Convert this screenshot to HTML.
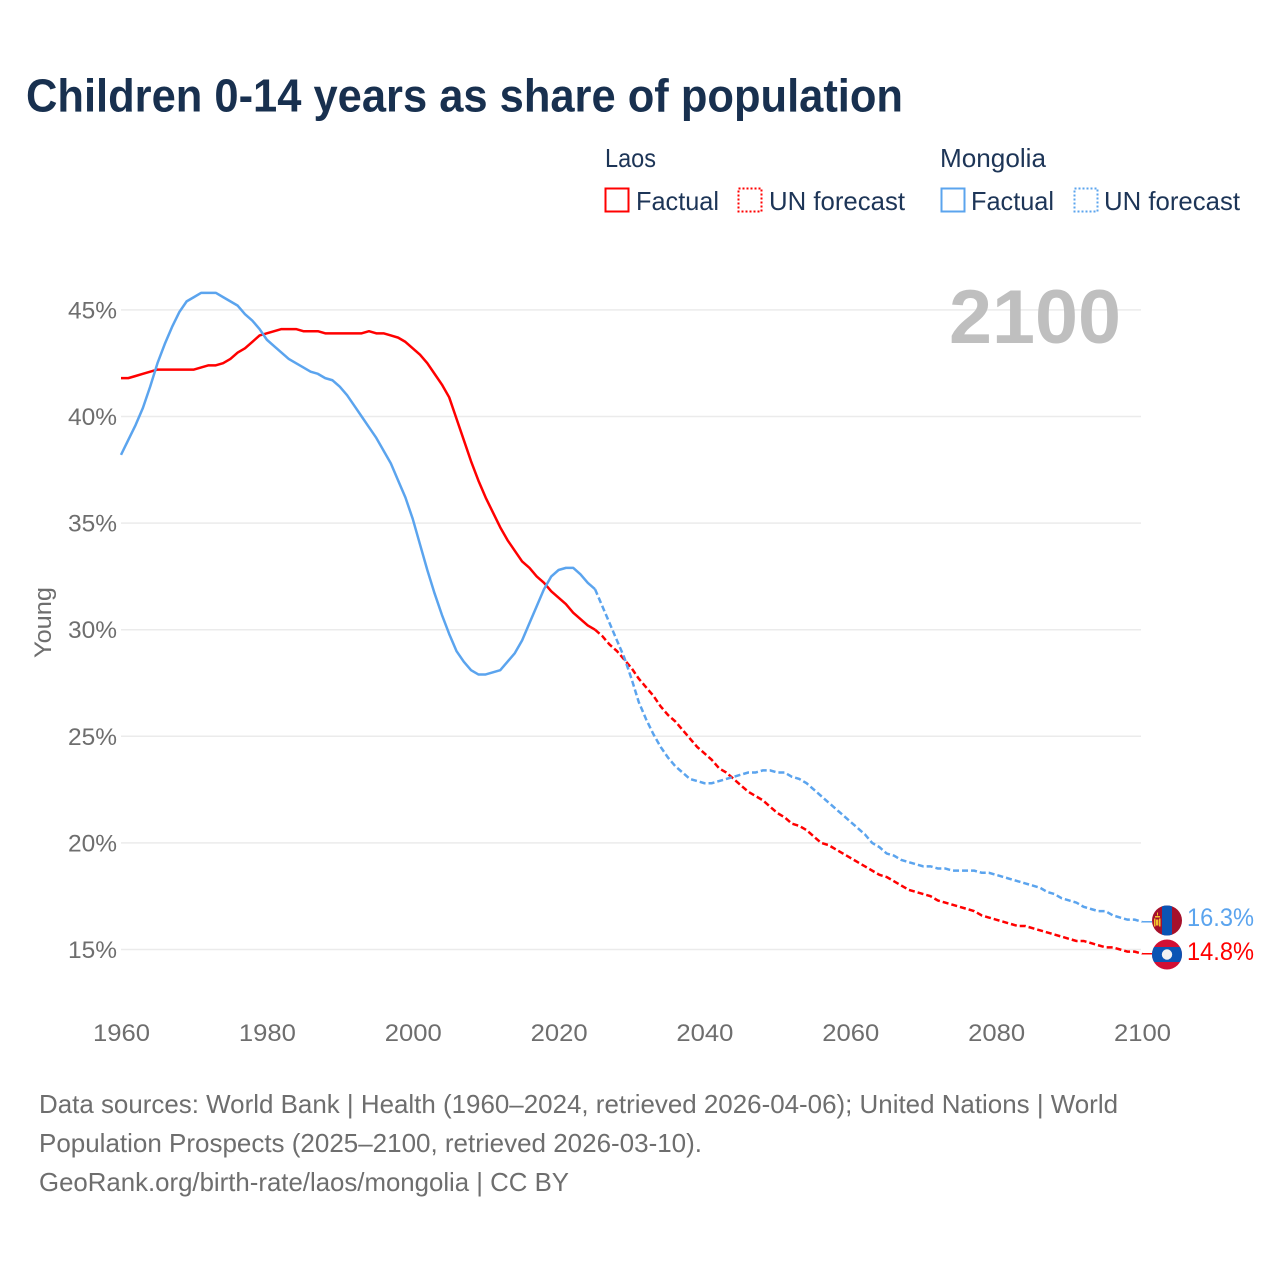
<!DOCTYPE html>
<html lang="en">
<head>
<meta charset="utf-8">
<title>Children 0-14 years as share of population</title>
<style>
  html, body { margin: 0; padding: 0; background: #fff; }
  svg { display: block; font-family: "Liberation Sans", sans-serif; }
</style>
</head>
<body>
<svg id="chart" xmlns="http://www.w3.org/2000/svg" width="1280" height="1280" viewBox="0 0 1280 1280">
  <rect x="0" y="0" width="1280" height="1280" fill="#ffffff"/>
  <text x="26" y="111.5" font-size="46" font-weight="700" fill="#18304f" textLength="877" lengthAdjust="spacingAndGlyphs">Children 0-14 years as share of population</text>

  <g font-size="26" fill="#1d3557">
    <text x="605" y="167" textLength="51" lengthAdjust="spacingAndGlyphs">Laos</text>
    <text x="940" y="167" textLength="106" lengthAdjust="spacingAndGlyphs">Mongolia</text>
    <rect x="605.5" y="188.5" width="23" height="23" fill="none" stroke="#ff0000" stroke-width="2"/>
    <text x="636" y="210" textLength="83" lengthAdjust="spacingAndGlyphs">Factual</text>
    <rect x="738.5" y="188.5" width="23" height="23" fill="none" stroke="#ff0000" stroke-width="2" stroke-dasharray="2 2"/>
    <text x="769" y="210" textLength="136" lengthAdjust="spacingAndGlyphs">UN forecast</text>
    <rect x="941.5" y="188.5" width="23" height="23" fill="none" stroke="#5ba4ee" stroke-width="2"/>
    <text x="971" y="210" textLength="83" lengthAdjust="spacingAndGlyphs">Factual</text>
    <rect x="1074.5" y="188.5" width="23" height="23" fill="none" stroke="#5ba4ee" stroke-width="2" stroke-dasharray="2 2"/>
    <text x="1104" y="210" textLength="136" lengthAdjust="spacingAndGlyphs">UN forecast</text>
  </g>

  <g id="grid-layer"></g>
  <text x="949" y="343" font-size="76" font-weight="700" fill="#bfbfbf" textLength="172" lengthAdjust="spacingAndGlyphs">2100</text>
  <g id="y-tick-layer"></g>
  <g id="x-tick-layer"></g>
  <text transform="translate(51,658) rotate(-90)" font-size="24" fill="#6e6e6e" textLength="71" lengthAdjust="spacingAndGlyphs">Young</text>
  <g id="series-layer"></g>

  <defs>
    <clipPath id="flag-clip-mongolia"><circle cx="1167" cy="920.5" r="15"/></clipPath>
    <clipPath id="flag-clip-laos"><circle cx="1167" cy="954.5" r="15"/></clipPath>
  </defs>
  <g clip-path="url(#flag-clip-mongolia)">
    <rect x="1152" y="905" width="31" height="31" fill="#a6102b"/>
    <rect x="1162" y="905" width="10" height="31" fill="#0b54b4"/>
    <rect x="1155" y="916" width="5" height="1.5" fill="#f2c230"/>
    <rect x="1154" y="918.5" width="1.5" height="8" fill="#f2c230"/>
    <rect x="1159" y="918.5" width="1.5" height="8" fill="#f2c230"/>
    <rect x="1156" y="919.5" width="2.4" height="6" fill="#f2c230"/>
    <rect x="1157" y="912.5" width="1" height="3" fill="#f2c230"/>
  </g>
  <g clip-path="url(#flag-clip-laos)">
    <rect x="1152" y="939" width="31" height="31" fill="#d20f34"/>
    <rect x="1152" y="947" width="31" height="15" fill="#0b54b4"/>
    <circle cx="1167" cy="954.5" r="5.2" fill="#f2f2f2"/>
  </g>
  <text x="1187" y="926" font-size="25" fill="#5ba4ee" textLength="67" lengthAdjust="spacingAndGlyphs">16.3%</text>
  <text x="1187" y="960" font-size="25" fill="#ff0000" textLength="67" lengthAdjust="spacingAndGlyphs">14.8%</text>

  <g font-size="26" fill="#6e6e6e">
    <text x="39" y="1113" textLength="1079" lengthAdjust="spacingAndGlyphs">Data sources: World Bank | Health (1960–2024, retrieved 2026-04-06); United Nations | World</text>
    <text x="39" y="1152" textLength="663" lengthAdjust="spacingAndGlyphs">Population Prospects (2025–2100, retrieved 2026-03-10).</text>
    <text x="39" y="1191" textLength="530" lengthAdjust="spacingAndGlyphs">GeoRank.org/birth-rate/laos/mongolia | CC BY</text>
  </g>
</svg>

<script>
const firstYear = 1960;
const forecastStartYear = 2025;
const yTickValues = [15, 20, 25, 30, 35, 40, 45];
const xTickYears = [1960, 1980, 2000, 2020, 2040, 2060, 2080, 2100];

const laosValues = [
  41.8,41.8,41.9,42.0,42.1,42.2,42.2,42.2,42.2,42.2,
  42.2,42.3,42.4,42.4,42.5,42.7,43.0,43.2,43.5,43.8,
  43.9,44.0,44.1,44.1,44.1,44.0,44.0,44.0,43.9,43.9,
  43.9,43.9,43.9,43.9,44.0,43.9,43.9,43.8,43.7,43.5,
  43.2,42.9,42.5,42.0,41.5,40.9,39.9,38.9,37.9,37.0,
  36.2,35.5,34.8,34.2,33.7,33.2,32.9,32.5,32.2,31.8,
  31.5,31.2,30.8,30.5,30.2,30.0,29.7,29.3,29.0,28.6,
  28.2,27.7,27.3,26.9,26.4,26.0,25.7,25.3,24.9,24.5,
  24.2,23.9,23.5,23.3,23.0,22.7,22.4,22.2,22.0,21.7,
  21.4,21.2,20.9,20.8,20.6,20.3,20.0,19.9,19.7,19.5,
  19.3,19.1,18.9,18.7,18.5,18.4,18.2,18.0,17.8,17.7,
  17.6,17.5,17.3,17.2,17.1,17.0,16.9,16.8,16.6,16.5,
  16.4,16.3,16.2,16.1,16.1,16.0,15.9,15.8,15.7,15.6,
  15.5,15.4,15.4,15.3,15.2,15.1,15.1,15.0,14.9,14.9,
  14.8
];

const mongoliaValues = [
  38.2,38.9,39.6,40.4,41.4,42.5,43.4,44.2,44.9,45.4,
  45.6,45.8,45.8,45.8,45.6,45.4,45.2,44.8,44.5,44.1,
  43.6,43.3,43.0,42.7,42.5,42.3,42.1,42.0,41.8,41.7,
  41.4,41.0,40.5,40.0,39.5,39.0,38.4,37.8,37.0,36.2,
  35.2,34.0,32.8,31.7,30.7,29.8,29.0,28.5,28.1,27.9,
  27.9,28.0,28.1,28.5,28.9,29.5,30.3,31.1,31.9,32.5,
  32.8,32.9,32.9,32.6,32.2,31.9,31.1,30.3,29.5,28.7,
  27.7,26.6,25.8,25.1,24.5,24.0,23.6,23.3,23.0,22.9,
  22.8,22.8,22.9,23.0,23.1,23.2,23.3,23.3,23.4,23.4,
  23.3,23.3,23.1,23.0,22.8,22.5,22.2,21.9,21.6,21.3,
  21.0,20.7,20.4,20.0,19.8,19.5,19.4,19.2,19.1,19.0,
  18.9,18.9,18.8,18.8,18.7,18.7,18.7,18.7,18.6,18.6,
  18.5,18.4,18.3,18.2,18.1,18.0,17.9,17.7,17.6,17.4,
  17.3,17.2,17.0,16.9,16.8,16.8,16.6,16.5,16.4,16.4,
  16.3
];

const NS = 'http://www.w3.org/2000/svg';
function xScale(year) { return 121 + (year - firstYear) * 7.293; }
function yScale(value) { return 949.5 - (value - 15) * 21.32; }

function pathFor(values, fromYear, toYear) {
  let d = '';
  for (let year = fromYear; year <= toYear; year++) {
    const v = values[year - firstYear];
    d += (d ? 'L' : 'M') + xScale(year).toFixed(2) + ' ' + yScale(v).toFixed(2);
  }
  return d;
}

const gridLayer = document.getElementById('grid-layer');
const yTickLayer = document.getElementById('y-tick-layer');
const xTickLayer = document.getElementById('x-tick-layer');
const seriesLayer = document.getElementById('series-layer');

yTickValues.forEach(function (tick) {
  const line = document.createElementNS(NS, 'line');
  
  
  line.setAttribute('x1', 121);
  line.setAttribute('x2', 1141);
  line.setAttribute('y1', yScale(tick));
  line.setAttribute('y2', yScale(tick));
  line.setAttribute('stroke', '#ebebeb');
  line.setAttribute('stroke-width', '1.5');
  gridLayer.appendChild(line);

  const label = document.createElementNS(NS, 'text');
  
  
  label.setAttribute('x', 68);
  label.setAttribute('y', yScale(tick) + 8.5);
  label.setAttribute('font-size', '24');
  label.setAttribute('fill', '#6e6e6e');
  label.setAttribute('textLength', '49');
  label.setAttribute('lengthAdjust', 'spacingAndGlyphs');
  label.textContent = tick + '%';
  yTickLayer.appendChild(label);
});

xTickYears.forEach(function (year) {
  const label = document.createElementNS(NS, 'text');
  
  
  label.setAttribute('x', xScale(year) - 28);
  label.setAttribute('y', 1041);
  label.setAttribute('font-size', '24');
  label.setAttribute('fill', '#6e6e6e');
  label.setAttribute('textLength', '57');
  label.setAttribute('lengthAdjust', 'spacingAndGlyphs');
  label.textContent = year;
  xTickLayer.appendChild(label);
});

function drawSeries(values, color, key) {
  const lastYear = firstYear + values.length - 1;

  const factual = document.createElementNS(NS, 'path');
  
  
  factual.setAttribute('data-series', key);
  factual.setAttribute('d', pathFor(values, firstYear, forecastStartYear));
  factual.setAttribute('fill', 'none');
  factual.setAttribute('stroke', color);
  factual.setAttribute('stroke-width', '2.5');
  factual.setAttribute('stroke-linejoin', 'round');
  seriesLayer.appendChild(factual);

  const forecast = document.createElementNS(NS, 'path');
  
  
  forecast.setAttribute('data-series', key);
  forecast.setAttribute('d', pathFor(values, forecastStartYear, lastYear));
  forecast.setAttribute('fill', 'none');
  forecast.setAttribute('stroke', color);
  forecast.setAttribute('stroke-width', '2.5');
  forecast.setAttribute('stroke-dasharray', '6 3');
  seriesLayer.appendChild(forecast);

  const connector = document.createElementNS(NS, 'line');
  
  
  connector.setAttribute('x1', xScale(lastYear));
  connector.setAttribute('x2', xScale(lastYear) + 10);
  connector.setAttribute('y1', yScale(values[values.length - 1]));
  connector.setAttribute('y2', yScale(values[values.length - 1]));
  connector.setAttribute('stroke', color);
  connector.setAttribute('stroke-width', '1.5');
  seriesLayer.appendChild(connector);
}

drawSeries(laosValues, '#ff0000', 'laos');
drawSeries(mongoliaValues, '#5ba4ee', 'mongolia');
</script>
</body>
</html>
